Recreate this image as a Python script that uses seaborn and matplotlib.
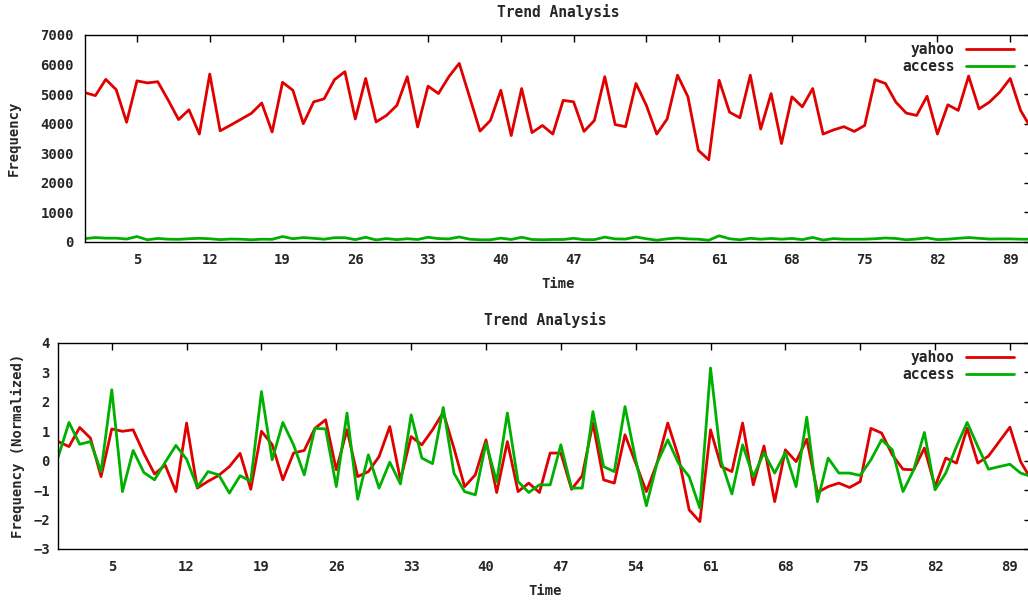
import matplotlib
matplotlib.use("Agg")
import matplotlib.pyplot as plt
import seaborn as sns
import pandas as pd

# raw counts per time step
yahoo = [5050, 4950, 5500, 5150, 4050, 5450, 5380, 5420, 4800, 4140,
         4470, 3650, 5680, 3760, 3950, 4150, 4350, 4700, 3720, 5400,
         5130, 4000, 4740, 4840, 5490, 5760, 4160, 5530, 4060, 4280,
         4620, 5590, 3890, 5270, 5020, 5590, 6040, 4900, 3750, 4110,
         5130, 3600, 5190, 3700, 3940, 3650, 4790, 4740, 3740, 4110,
         5590, 3970, 3900, 5360, 4620, 3650, 4160, 5640, 4910, 3100,
         2780, 5470, 4390, 4200, 5640, 3820, 5020, 3330, 4910, 4570,
         5190, 3650, 3790, 3900, 3740, 3940, 5490, 5360, 4730, 4360,
         4280, 4930, 3650, 4640, 4450, 5610, 4500, 4730, 5070, 5530,
         4450, 3850]
access = [115, 150, 130, 130, 100, 185, 75, 120, 95, 90,
          110, 125, 110, 80, 100, 95, 75, 95, 90, 185,
          110, 150, 125, 95, 145, 145, 80, 160, 70, 115,
          80, 110, 85, 160, 115, 105, 170, 95, 75, 75,
          130, 85, 160, 85, 75, 85, 85, 125, 80, 80,
          165, 105, 100, 170, 110, 60, 105, 135, 105, 95,
          60, 210, 110, 75, 125, 95, 120, 95, 120, 80,
          155, 65, 115, 95, 95, 95, 110, 135, 120, 75,
          100, 140, 80, 95, 125, 150, 125, 100, 105, 105,
          95, 95]

# normalized series
yahoo_norm = [0.65, 0.48, 1.13, 0.77, -0.54, 1.08, 1.0, 1.05, 0.25, -0.45,
              -0.15, -1.05, 1.28, -0.93, -0.7, -0.5, -0.2, 0.25, -0.97, 1.0,
              0.55, -0.65, 0.26, 0.35, 1.1, 1.39, -0.31, 1.05, -0.54, -0.37,
              0.14, 1.16, -0.65, 0.82, 0.54, 1.05, 1.64, 0.43, -0.88, -0.48,
              0.71, -1.08, 0.65, -1.05, -0.76, -1.08, 0.26, 0.26, -0.97, -0.51,
              1.28, -0.65, -0.76, 0.88, -0.08, -1.05, -0.08, 1.28, 0.14, -1.67,
              -2.07, 1.05, -0.2, -0.37, 1.28, -0.82, 0.5, -1.39, 0.37, -0.03,
              0.73, -1.08, -0.88, -0.76, -0.91, -0.71, 1.1, 0.94, 0.2, -0.29,
              -0.31, 0.43, -0.88, 0.09, -0.08, 1.1, -0.08, 0.16, 0.65, 1.14,
              -0.03, -0.65]
access_norm = [0.14, 1.3, 0.56, 0.65, -0.37, 2.41, -1.05, 0.35, -0.4, -0.65,
               -0.05, 0.52, 0.05, -0.9, -0.37, -0.48, -1.1, -0.51, -0.7, 2.35,
               0.03, 1.3, 0.54, -0.48, 1.1, 1.08, -0.88, 1.62, -1.31, 0.2,
               -0.93, -0.05, -0.79, 1.56, 0.09, -0.1, 1.81, -0.42, -1.05, -1.16,
               0.6, -0.71, 1.62, -0.71, -1.08, -0.82, -0.82, 0.54, -0.93, -0.93,
               1.67, -0.2, -0.37, 1.84, 0.03, -1.53, -0.08, 0.71, -0.08, -0.54,
               -1.61, 3.15, -0.03, -1.13, 0.54, -0.54, 0.27, -0.42, 0.28, -0.88,
               1.48, -1.39, 0.09, -0.42, -0.42, -0.5, 0.03, 0.71, 0.37, -1.05,
               -0.31, 0.96, -0.99, -0.42, 0.48, 1.3, 0.48, -0.29, -0.2, -0.12,
               -0.42, -0.54]

x_ticks = list(range(5, 90, 7))
series = ["yahoo", "access"]
colors = {"yahoo": "#e00000", "access": "#00b000"}

sns.set_style("white")
plt.rcParams["font.family"] = ["DejaVu Sans Mono", "DejaVu Sans"]
plt.rcParams["font.weight"] = "bold"


def long_frame(a, b):
    t = list(range(len(a)))
    return pd.DataFrame({
        "Time": t + t,
        "value": a + b,
        "series": ["yahoo"] * len(a) + ["access"] * len(b),
    })


def style_axis(ax, ylabel, yticks, ylim, ypad, ylabelpad):
    ax.set_xlim(0, 91)
    ax.set_ylim(*ylim)
    ax.set_xticks(x_ticks)
    ax.set_yticks(yticks)
    ax.tick_params(direction="in", top=True, right=True, length=5, width=1,
                   labelsize=10, color="black")
    ax.tick_params(axis="x", pad=8)
    ax.tick_params(axis="y", pad=ypad)
    for s in ax.spines.values():
        s.set_color("black")
        s.set_linewidth(1)
    ax.set_title("Trend Analysis", fontsize=10.5, fontweight="bold", pad=13)
    ax.set_xlabel("Time", fontsize=10, fontweight="bold", labelpad=7)
    ax.set_ylabel(ylabel, fontsize=10, fontweight="bold", labelpad=ylabelpad)
    leg = ax.legend(loc="upper right", frameon=False, markerfirst=False,
                    fontsize=10.5, handlelength=3.3, handletextpad=0.8,
                    borderaxespad=0.1, labelspacing=0.1,
                    bbox_to_anchor=(0.99, 1.0))
    for t in leg.get_texts():
        t.set_fontweight("bold")


fig = plt.figure(figsize=(10.28, 6.03), dpi=100)
ax1 = fig.add_axes([85 / 1028, 1 - 242 / 603, 946 / 1028, 207 / 603])
ax2 = fig.add_axes([58.3 / 1028, 1 - 549 / 603, 973 / 1028, 206 / 603])

sns.lineplot(data=long_frame(yahoo, access), x="Time", y="value", hue="series",
             hue_order=series, palette=colors, linewidth=2, ax=ax1)
style_axis(ax1, "Frequency", range(0, 7001, 1000), (0, 7000), 8, 14)

sns.lineplot(data=long_frame(yahoo_norm, access_norm), x="Time", y="value",
             hue="series", hue_order=series, palette=colors, linewidth=2, ax=ax2)
style_axis(ax2, "Frequency (Normalized)", range(-3, 5), (-3, 4), 6, 6)

fig.savefig("out.png", dpi=100)
